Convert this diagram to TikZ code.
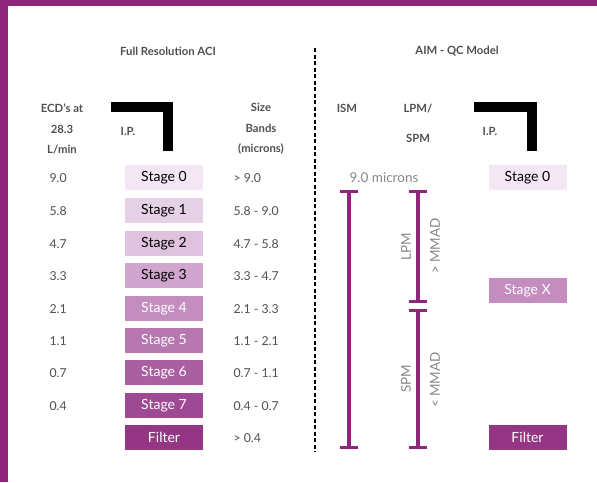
\documentclass[tikz,border=0pt]{standalone}
\usepackage{fontspec}
\setmainfont{Lato}
\usepackage{tikz}
\usetikzlibrary{arrows.meta,positioning}
\definecolor{plum}{RGB}{142,38,124}
\definecolor{txtgray}{RGB}{80,80,80}
\definecolor{lightgray}{RGB}{135,135,135}
\definecolor{stzero}{RGB}{243,231,243}
\definecolor{stone}{RGB}{230,210,230}
\definecolor{sttwo}{RGB}{222,194,222}
\definecolor{stthree}{RGB}{208,166,206}
\definecolor{stfour}{RGB}{196,141,192}
\definecolor{stfive}{RGB}{183,119,175}
\definecolor{stsix}{RGB}{170,95,161}
\definecolor{stseven}{RGB}{158,73,147}
\definecolor{stfilt}{RGB}{148,54,131}

\begin{document}
\begin{tikzpicture}[
    x=1pt, y=-1pt,
    stage/.style={fill=#1,minimum width=78pt,minimum height=25pt,
                  inner sep=0pt,font=\fontsize{14}{16}\selectfont},
    head/.style={font=\bfseries\fontsize{11.3}{20.5}\selectfont,
                 text=txtgray,align=center},
    val/.style={anchor=west,font=\fontsize{12.3}{14}\selectfont,text=txtgray},
    side/.style={font=\fontsize{13.5}{15}\selectfont,text=lightgray},
    band/.style={{Bar[width=18pt]}-{Bar[width=18pt]},line width=3.4pt,plum},
    ipbar/.style={line width=10pt,line join=miter,black}]

    % frame
    \useasboundingbox (0,0) rectangle (597,482);
    \fill[white] (0,0) rectangle (597,482);
    \fill[plum] (0,0) rectangle (597,6);
    \fill[plum] (0,0) rectangle (8,482);

    % Left: Full Resolution ACI
    \node[head] (aci) at (168,51) {Full Resolution ACI};
    \node[head] (ecd) at (62,129) {ECD’s at\\28.3\\L/min};
    \node[head] (ipl) at (128,131) {I.P.};
    \node[head] (size) at (261,129) {Size\\Bands\\(microns)};
    \draw[ipbar] (111,107) -- (167.5,107) -- (167.5,151);

    \node[stage=stzero]   (s0) at (164,177.5) {Stage 0};
    \node[stage=stone]    (s1) at (164,210.5) {Stage 1};
    \node[stage=sttwo]    (s2) at (164,243.5) {Stage 2};
    \node[stage=stthree]  (s3) at (164,275.5) {Stage 3};
    \node[stage=stfour,text=white]  (s4) at (164,308.5) {Stage 4};
    \node[stage=stfive,text=white]  (s5) at (164,340.5) {Stage 5};
    \node[stage=stsix,text=white]   (s6) at (164,372.5) {Stage 6};
    \node[stage=stseven,text=white] (s7) at (164,405.5) {Stage 7};
    \node[stage=stfilt,text=white]  (filt) at (164,437.5) {Filter};

    \node[val] (e0) at (46,178) {9.0};
    \node[val] (e1) at (46,211) {5.8};
    \node[val] (e2) at (46,244) {4.7};
    \node[val] (e3) at (46,276) {3.3};
    \node[val] (e4) at (46,309) {2.1};
    \node[val] (e5) at (46,341) {1.1};
    \node[val] (e6) at (46,373) {0.7};
    \node[val] (e7) at (46,406) {0.4};

    \node[val] (b0) at (230,178) {> 9.0};
    \node[val] (b1) at (230,211) {5.8 - 9.0};
    \node[val] (b2) at (230,244) {4.7 - 5.8};
    \node[val] (b3) at (230,276) {3.3 - 4.7};
    \node[val] (b4) at (230,309) {2.1 - 3.3};
    \node[val] (b5) at (230,341) {1.1 - 2.1};
    \node[val] (b6) at (230,373) {0.7 - 1.1};
    \node[val] (b7) at (230,406) {0.4 - 0.7};
    \node[val] (bf) at (230,438) {> 0.4};

    % divider
    \coordinate (dtop) at (315,48);
    \coordinate (dbot) at (315,452);
    \draw[line width=2pt,dash pattern=on 4pt off 2.5pt] (dtop) -- (dbot);

    % Right: AIM - QC Model
    \node[head] (aim) at (457,51) {AIM - QC Model};
    \node[head] (ism) at (347,108) {ISM};
    \node[head,font=\bfseries\fontsize{11.3}{30}\selectfont] (lpm) at (418,123) {LPM/\\SPM};
    \node[head] (ipr) at (490,131) {I.P.};
    \draw[ipbar] (474,107) -- (531.5,107) -- (531.5,151);

    \node[side] (cut) at (384,178) {9.0 microns};
    \node[stage=stzero]            (r0) at (527.5,177.5) {Stage 0};
    \node[stage=stfour,text=white] (rx) at (527.5,290.5) {Stage X};
    \node[stage=stfilt,text=white] (rfilt) at (527.5,437.5) {Filter};

    \coordinate (ismtop) at (349,190);
    \coordinate (ismbot) at (349,449);
    \coordinate (lpmtop) at (418,190);
    \coordinate (lpmbot) at (418,303);
    \coordinate (spmtop) at (418,309);
    \coordinate (spmbot) at (418,449);
    \draw[band] (ismtop) -- (ismbot);
    \draw[band] (lpmtop) -- (lpmbot);
    \draw[band] (spmtop) -- (spmbot);

    \node[side,rotate=90] (lpmlab) at (406,247) {LPM};
    \node[side,rotate=90] (gtm) at (435,246) {> MMAD};
    \node[side,rotate=90] (spmlab) at (406,379) {SPM};
    \node[side,rotate=90] (ltm) at (435,380) {< MMAD};
\end{tikzpicture}
\end{document}
